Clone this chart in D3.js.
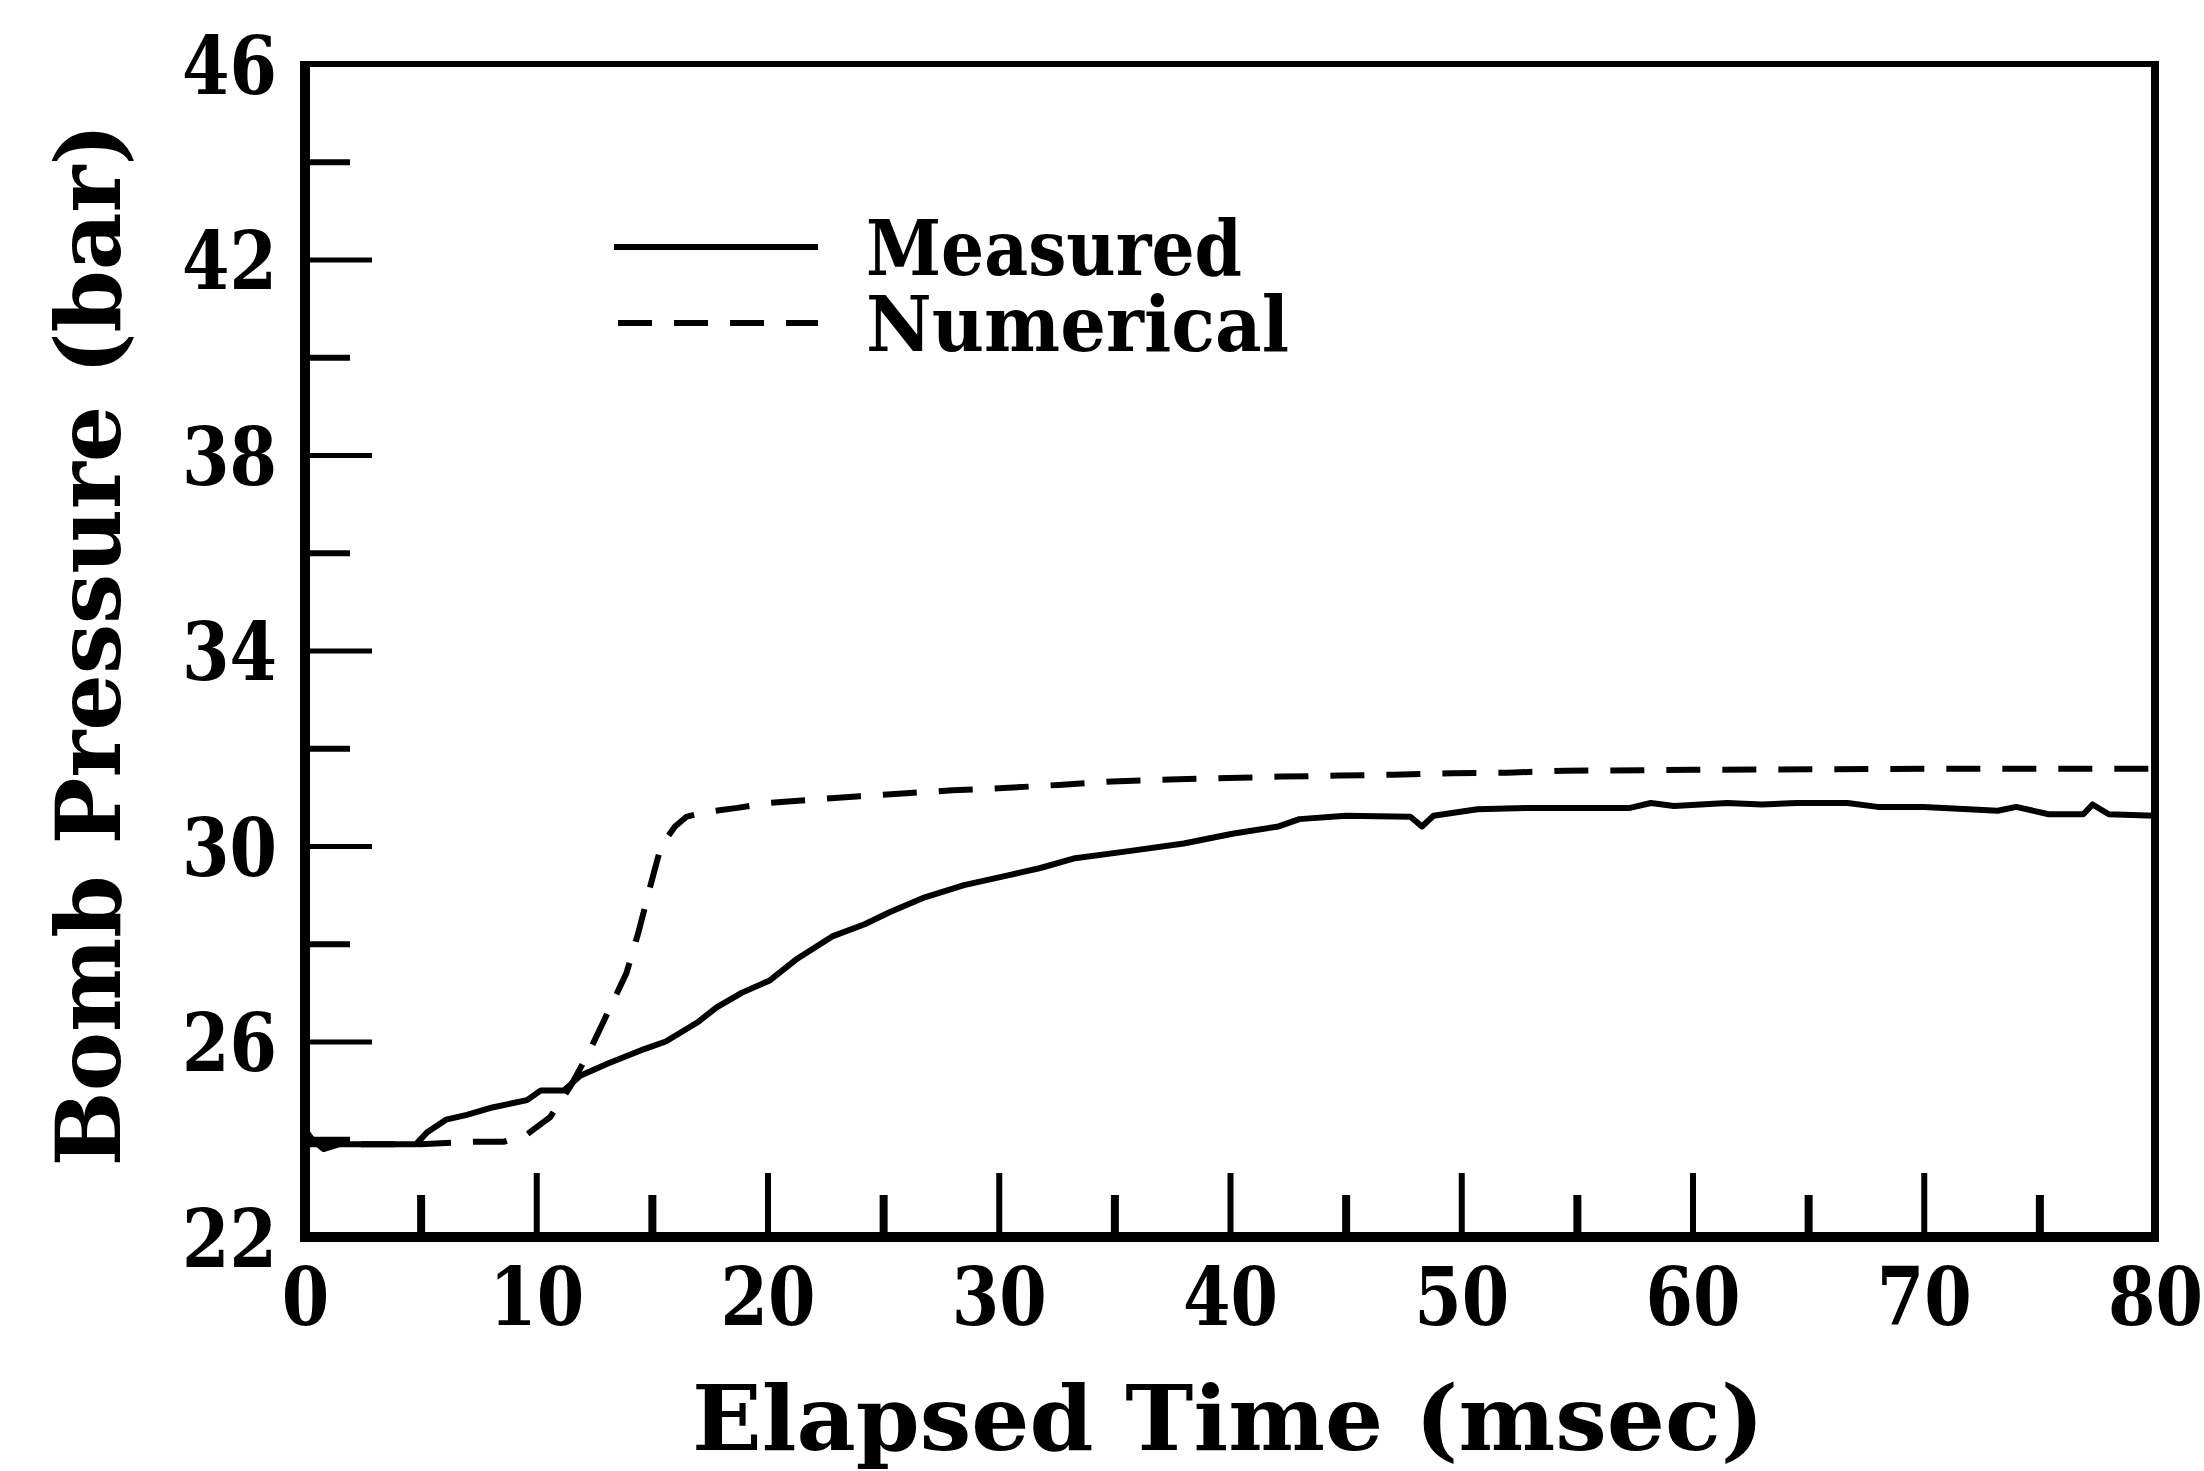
<!DOCTYPE html>
<html>
<head>
<meta charset="utf-8">
<script src="https://cdn.jsdelivr.net/npm/d3@7"></script>
<style>
  body { margin: 0; background: #fff; }
  text { font-family: "DejaVu Serif", serif; font-weight: bold; fill: #000; }
</style>
</head>
<body>
<script>
// elapsed time (msec) and bomb pressure (bar)
let measuredT = [0, 0.3, 0.8, 1.5, 3, 4.8, 5.3, 6.1, 7, 8.1, 9.6, 10.2, 11.2, 11.9, 13.1, 14.7, 15.6, 17, 17.8, 18.9,
                 20.1, 21.3, 22.8, 24.2, 25.3, 26.8, 28.5, 30.4, 31.8, 33.3, 35.7, 38, 40.1, 42.1, 43, 45, 47.8, 48.3, 48.8,
                 50.7, 53, 56, 57.3, 58.2, 59.2, 61.5, 63, 64.5, 66.7, 68, 70, 73.2, 74, 75.4, 76.9, 77.3, 78, 80];
let measuredP = [24.2, 24.0, 23.8, 23.9, 23.9, 23.9, 24.15, 24.4, 24.5, 24.65, 24.8, 25.0, 25.0, 25.3, 25.55, 25.85, 26.0, 26.4, 26.7, 27.0,
                 27.25, 27.7, 28.15, 28.4, 28.65, 28.95, 29.2, 29.4, 29.55, 29.75, 29.9, 30.05, 30.25, 30.4, 30.55, 30.62, 30.6, 30.4, 30.62,
                 30.75, 30.78, 30.78, 30.78, 30.88, 30.82, 30.88, 30.85, 30.88, 30.88, 30.8, 30.8, 30.72, 30.8, 30.65, 30.65, 30.85, 30.65, 30.62];

let numericalT = [0, 5, 7.3, 8.6, 9.6, 10.6, 11.5, 12.3, 12.9, 13.3, 13.9, 14.4, 15.0, 15.4, 16.0, 16.5, 17.4, 18.7,
                  20, 22, 24, 26, 28, 30, 32.6, 34.9, 37.4, 39.9, 42.2, 44.7, 47.1, 49.6, 52, 54.5, 60, 70, 80];
let numericalP = [23.9, 23.9, 23.95, 23.95, 24.1, 24.45, 25.1, 25.8, 26.4, 26.8, 27.4, 28.2, 29.3, 30.0, 30.4, 30.6, 30.7, 30.78,
                  30.88, 30.95, 31.02, 31.08, 31.14, 31.18, 31.25, 31.32, 31.36, 31.39, 31.42, 31.44, 31.46, 31.49, 31.5, 31.54, 31.56, 31.58, 31.58];

let xLabels = [0, 10, 20, 30, 40, 50, 60, 70, 80];
let xMinor = [5, 15, 25, 35, 45, 55, 65, 75];
let xMajor = [10, 20, 30, 40, 50, 60, 70];
let yLabels = [22, 26, 30, 34, 38, 42, 46];
let yMajor = [26, 30, 34, 38, 42];
let yMinor = [24, 28, 32, 36, 40, 44];
let seriesNames = ["Measured", "Numerical"];

let W = 2204, H = 1471;
let plotL = 305, plotR = 2155, plotT = 64, plotB = 1237;

let svg = d3.select("body").append("svg").attr("width", W).attr("height", H);

let x = d3.scaleLinear().domain([0, 80]).range([plotL, plotR]);
let y = d3.scaleLinear().domain([22, 46]).range([plotB, plotT]);

// frame
svg.append("line").attr("x1", plotL).attr("x2", plotR).attr("y1", plotT).attr("y2", plotT)
   .attr("stroke", "#000").attr("stroke-width", 6);
svg.append("line").attr("x1", plotR).attr("x2", plotR).attr("y1", plotT - 3).attr("y2", plotB + 5)
   .attr("stroke", "#000").attr("stroke-width", 8);

// tick marks pointing inward
function tickAxis(axis, tr) {
  let g = svg.append("g").attr("transform", tr).call(axis);
  g.select(".domain").remove();
  g.selectAll("text").remove();
  g.selectAll("line").attr("stroke", "#000");
  return g;
}
tickAxis(d3.axisLeft(y).tickValues(yMajor).tickSize(-67), `translate(${plotL},0)`).selectAll("line").attr("stroke-width", 5);
tickAxis(d3.axisLeft(y).tickValues(yMinor).tickSize(-45), `translate(${plotL},0)`).selectAll("line").attr("stroke-width", 6);
tickAxis(d3.axisBottom(x).tickValues(xMajor).tickSize(-64), `translate(0,${plotB})`).selectAll("line").attr("stroke-width", 6);
tickAxis(d3.axisBottom(x).tickValues(xMinor).tickSize(-42), `translate(0,${plotB})`).selectAll("line").attr("stroke-width", 8);

// labelled axes (domain lines are the thick left/bottom frame)
let gx = svg.append("g").attr("transform", `translate(0,${plotB})`)
  .call(d3.axisBottom(x).tickValues(xLabels).tickSize(0).tickFormat(d3.format("d")));
gx.select(".domain").attr("stroke", "#000").attr("stroke-width", 10).attr("d", `M${plotL - 5},0H${plotR + 4}`);
gx.selectAll("text").attr("font-size", 80).attr("y", 88).attr("dy", null)
  .attr("textLength", d => String(d).length * 47.5).attr("lengthAdjust", "spacingAndGlyphs");

let gy = svg.append("g").attr("transform", `translate(${plotL},0)`)
  .call(d3.axisLeft(y).tickValues(yLabels).tickSize(0).tickFormat(d3.format("d")));
gy.select(".domain").attr("stroke", "#000").attr("stroke-width", 10).attr("d", `M0,${plotT - 3}V${plotB + 5}`);
gy.selectAll("text").attr("font-size", 80).attr("x", -28).attr("dy", 29)
  .attr("textLength", d => String(d).length * 47.5).attr("lengthAdjust", "spacingAndGlyphs");

// curves
let line = d3.line().x(d => x(d[0])).y(d => y(d[1]));
let measured = d3.zip(measuredT, measuredP);
let numerical = d3.zip(numericalT, numericalP);

svg.append("path").datum(numerical).attr("d", line)
   .attr("fill", "none").attr("stroke", "#000").attr("stroke-width", 6)
   .attr("stroke-dasharray", "34,22");
svg.append("path").datum(measured).attr("d", line)
   .attr("fill", "none").attr("stroke", "#000").attr("stroke-width", 6)
   .attr("stroke-linejoin", "round");

// legend
let legend = svg.append("g");
legend.append("line").attr("x1", 614).attr("x2", 818).attr("y1", 247).attr("y2", 247)
  .attr("stroke", "#000").attr("stroke-width", 6);
legend.append("line").attr("x1", 618).attr("x2", 818).attr("y1", 323).attr("y2", 323)
  .attr("stroke", "#000").attr("stroke-width", 6).attr("stroke-dasharray", "34,22");
legend.selectAll("text").data(seriesNames).enter().append("text")
  .attr("x", 866).attr("y", (d, i) => 275 + i * 76)
  .attr("font-size", 76)
  .attr("textLength", d => d.length * 47)
  .attr("lengthAdjust", "spacingAndGlyphs")
  .text(d => d);

// axis titles
svg.append("text").attr("x", 1228).attr("y", 1450).attr("text-anchor", "middle")
  .attr("font-size", 90).attr("textLength", 1072).attr("lengthAdjust", "spacingAndGlyphs")
  .text("Elapsed Time (msec)");
svg.append("text").attr("transform", "translate(120,645) rotate(-90)").attr("text-anchor", "middle")
  .attr("font-size", 90).attr("textLength", 1043).attr("lengthAdjust", "spacingAndGlyphs")
  .text("Bomb Pressure (bar)");
</script>
</body>
</html>
